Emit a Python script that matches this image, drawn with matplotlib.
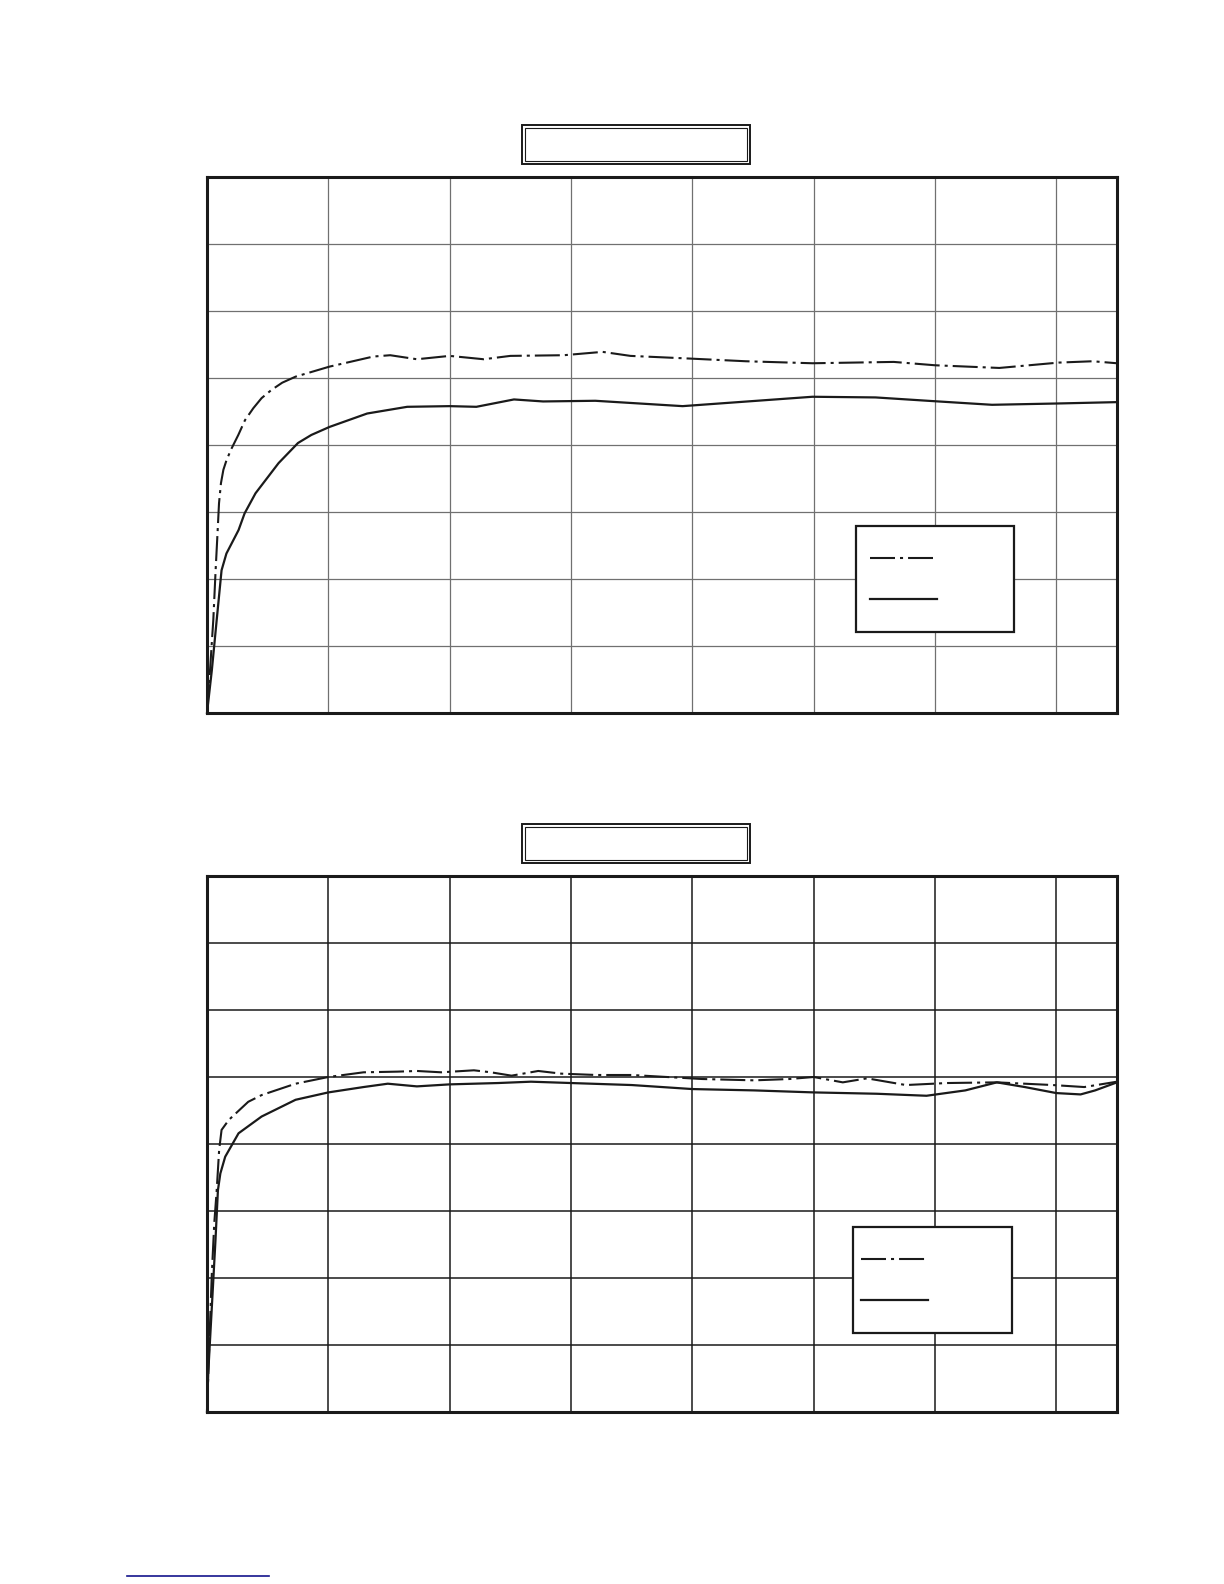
import matplotlib
matplotlib.use("Agg")
import matplotlib.pyplot as plt
from matplotlib.patches import Rectangle
from matplotlib.lines import Line2D

plt.rcParams['lines.scale_dashes'] = False

# ===== Data (grid units) =====
top_dash_x = [0, 0.025, 0.052, 0.071, 0.088, 0.099, 0.115, 0.135, 0.162, 0.203,
              0.258, 0.313, 0.382, 0.45, 0.53, 0.62, 0.73, 1.01, 1.37, 1.51,
              1.73, 2.00, 2.28, 2.50, 2.94, 3.26, 3.49, 3.98, 4.44, 4.99,
              5.66, 6.00, 6.53, 7.02, 7.30, 7.50]
top_dash_y = [0, 0.64, 1.39, 2.13, 2.73, 3.13, 3.43, 3.63, 3.78, 3.95,
              4.15, 4.37, 4.55, 4.70, 4.82, 4.93, 5.02, 5.17, 5.32, 5.34,
              5.28, 5.33, 5.28, 5.33, 5.34, 5.39, 5.33, 5.29, 5.25, 5.22,
              5.24, 5.19, 5.15, 5.23, 5.25, 5.22]

top_solid_x = [0, 0.04, 0.08, 0.12, 0.16, 0.26, 0.31, 0.40, 0.59, 0.75,
               0.86, 1.01, 1.32, 1.65, 2.00, 2.22, 2.53, 2.77, 3.20, 3.92,
               4.99, 5.51, 5.94, 6.47, 7.02, 7.50]
top_solid_y = [0, 0.64, 1.39, 2.13, 2.38, 2.73, 2.98, 3.28, 3.73, 4.03,
               4.15, 4.27, 4.47, 4.57, 4.58, 4.57, 4.68, 4.65, 4.66, 4.58,
               4.72, 4.71, 4.66, 4.60, 4.62, 4.64]

bot_dash_x = [0, 0.02, 0.04, 0.06, 0.08, 0.10, 0.12, 0.18, 0.34, 0.45,
              0.73, 1.00, 1.29, 1.57, 1.73, 1.93, 2.20, 2.34, 2.51, 2.73,
              2.92, 3.21, 3.50, 4.08, 4.51, 4.80, 5.00, 5.24, 5.44, 5.76,
              6.10, 6.51, 6.97, 7.23, 7.50]
bot_dash_y = [0, 1.07, 2.07, 2.82, 3.31, 3.91, 4.21, 4.36, 4.63, 4.73,
              4.90, 5.00, 5.07, 5.08, 5.09, 5.07, 5.10, 5.07, 5.02, 5.09,
              5.05, 5.03, 5.03, 4.97, 4.95, 4.97, 5.00, 4.92, 4.98, 4.88,
              4.91, 4.92, 4.88, 4.85, 4.93]

bot_solid_x = [0, 0.01, 0.04, 0.07, 0.09, 0.11, 0.15, 0.26, 0.45, 0.73,
               1.00, 1.29, 1.49, 1.73, 2.00, 2.40, 2.67, 3.00, 3.50, 4.00,
               4.51, 5.00, 5.52, 5.93, 6.25, 6.51, 6.74, 7.00, 7.20, 7.32, 7.50]
bot_solid_y = [0, 0.58, 1.57, 2.57, 3.31, 3.56, 3.81, 4.16, 4.41, 4.66,
               4.77, 4.85, 4.90, 4.86, 4.89, 4.91, 4.93, 4.91, 4.88, 4.82,
               4.80, 4.77, 4.75, 4.72, 4.80, 4.92, 4.85, 4.76, 4.74, 4.80, 4.92]

x_ticks = list(range(0, 8))
y_ticks = list(range(0, 9))

DASHDOT = (0, (18, 3.6, 2.2, 3.6))
W, H = 1224, 1584


def px_rect(x0, y0, x1, y1):
    # pixel box (top-left origin) -> figure fraction
    return (x0 / W, 1 - y1 / H, (x1 - x0) / W, (y1 - y0) / H)


def title_box(fig, top):
    l, b, w, h = px_rect(522, top, 750, top + 39)
    fig.add_artist(Rectangle((l, b), w, h, transform=fig.transFigure,
                             fill=False, ec='#1a1a1a', lw=1.4))
    l, b, w, h = px_rect(525, top + 3, 747, top + 36)
    fig.add_artist(Rectangle((l, b), w, h, transform=fig.transFigure,
                             fill=False, ec='#1a1a1a', lw=0.8))


def draw_panel(fig, top, dx, dy, sx, sy, grid_color, grid_lw, leg):
    l, b, w, h = px_rect(207, top, 1117, top + 536)
    ax = fig.add_axes([l, b, w, h])
    ax.set_xlim(0, 7.5)
    ax.set_ylim(0, 8)
    ax.set_xticks(x_ticks)
    ax.set_yticks(y_ticks)
    ax.tick_params(length=0, labelbottom=False, labelleft=False)
    ax.grid(True, color=grid_color, lw=grid_lw)
    ax.set_axisbelow(True)
    for s in ax.spines.values():
        s.set_linewidth(2.2)
        s.set_color('#1a1a1a')
        s.set_zorder(6)

    ax.plot(dx, dy, color='#1a1a1a', lw=1.5, linestyle=DASHDOT, clip_on=False)
    ax.plot(sx, sy, color='#1a1a1a', lw=1.6, clip_on=False)

    # legend box without text
    bx0, by0, bx1, by1, hx0, hx1d, hx1s, hyd, hys = leg
    ax.add_patch(Rectangle((bx0, by0), bx1 - bx0, by1 - by0, transform=ax.transAxes,
                           fc='white', ec='#1a1a1a', lw=1.6, zorder=4))
    ax.add_line(Line2D([hx0, hx1d], [hyd, hyd], transform=ax.transAxes,
                       color='#1a1a1a', lw=1.5, linestyle=DASHDOT, zorder=5))
    ax.add_line(Line2D([hx0, hx1s], [hys, hys], transform=ax.transAxes,
                       color='#1a1a1a', lw=1.6, zorder=5))
    return ax


fig = plt.figure(figsize=(12.24, 15.84), dpi=100)

title_box(fig, 125)
draw_panel(fig, 177, top_dash_x, top_dash_y, top_solid_x, top_solid_y,
           '#707070', 0.9,
           (0.713, 0.152, 0.887, 0.349, 0.729, 0.798, 0.802, 0.290, 0.213))

title_box(fig, 824)
draw_panel(fig, 876, bot_dash_x, bot_dash_y, bot_solid_x, bot_solid_y,
           '#1a1a1a', 1.1,
           (0.710, 0.148, 0.885, 0.346, 0.719, 0.789, 0.792, 0.285, 0.2095))

# short blue rule at the page foot
fig.add_artist(Line2D([127 / W, 269 / W], [1 - 1576 / H] * 2,
                      transform=fig.transFigure, color='#14148c', lw=1.2))

fig.savefig('out.png', dpi=100, facecolor='white')
